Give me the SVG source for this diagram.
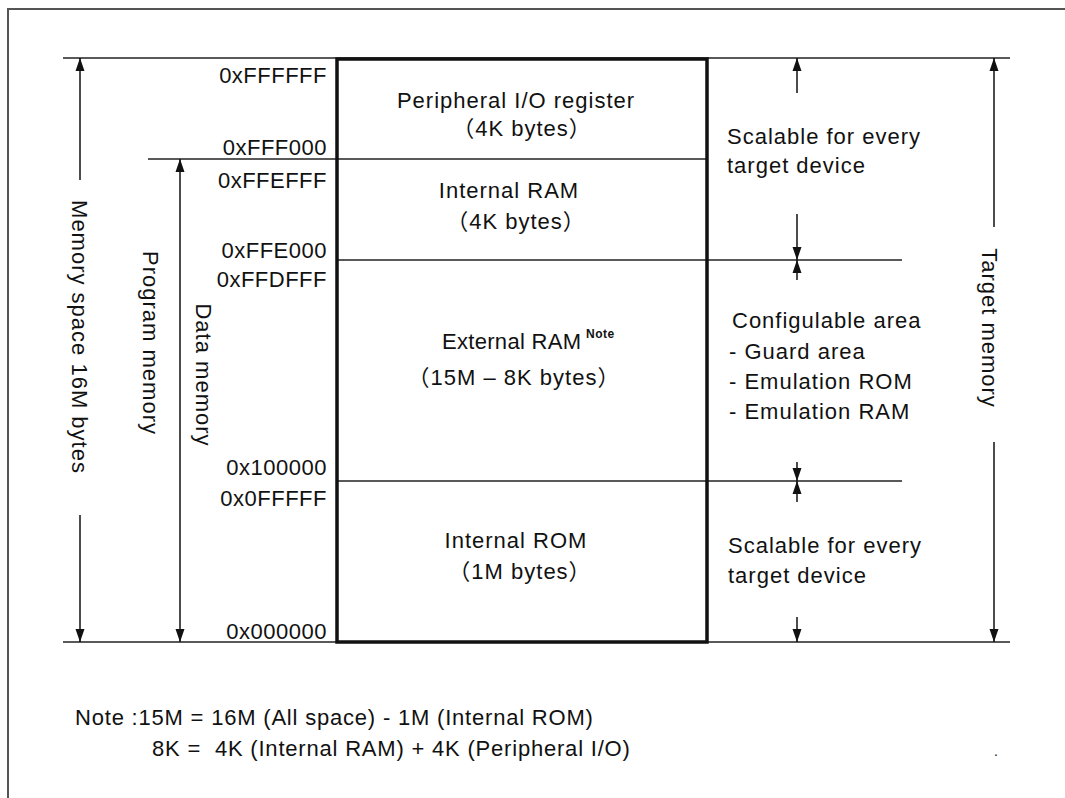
<svg xmlns="http://www.w3.org/2000/svg" width="1065" height="798" viewBox="0 0 1065 798">
<defs>
<marker id="ah" viewBox="0 0 13 10" refX="13" refY="5" markerWidth="13" markerHeight="10" markerUnits="userSpaceOnUse" orient="auto-start-reverse"><path d="M0,0.5 L13,5 L0,9.5 Z" fill="#111"/></marker>
</defs>
<style>
.t{font-family:"Liberation Sans","Noto Sans CJK JP",sans-serif;font-size:22px;fill:#111;letter-spacing:1px}
.a{letter-spacing:0.5px;text-anchor:end}
.c{text-anchor:middle}
.ln{stroke:#222;stroke-width:1.5;fill:none}
.ar{stroke:#111;stroke-width:1.5;fill:none;marker-end:url(#ah)}
.ar2{stroke:#111;stroke-width:1.5;fill:none;marker-start:url(#ah);marker-end:url(#ah)}
.box{stroke:#111;stroke-width:3.5;fill:none}
.frame{stroke:#555;stroke-width:2;fill:none}
</style>
<rect width="1065" height="798" fill="#fff"/>
<path class="frame" d="M8,798 L8,9 L1065,9"/>

<g id="connectors">
  <line class="ln" x1="63" y1="58" x2="1010" y2="58"/>
  <line class="ln" x1="63" y1="642" x2="1010" y2="642"/>
  <line class="ln" x1="148" y1="159" x2="707" y2="159"/>
  <line class="ln" x1="337" y1="260" x2="902" y2="260"/>
  <line class="ln" x1="337" y1="481" x2="902" y2="481"/>
  <line class="ar" x1="80" y1="180" x2="80" y2="58"/>
  <line class="ar" x1="80" y1="515" x2="80" y2="642"/>
  <line class="ar2" x1="180" y1="159" x2="180" y2="642"/>
  <line class="ar" x1="994" y1="227" x2="994" y2="58"/>
  <line class="ar" x1="994" y1="442" x2="994" y2="642"/>
  <line class="ar" x1="797" y1="93" x2="797" y2="58"/>
  <line class="ar" x1="797" y1="214" x2="797" y2="260"/>
  <line class="ar" x1="797" y1="280" x2="797" y2="260"/>
  <line class="ar" x1="797" y1="462" x2="797" y2="481"/>
  <line class="ar" x1="797" y1="502" x2="797" y2="481"/>
  <line class="ar" x1="797" y1="617" x2="797" y2="642"/>
</g>

<g id="memory-map">
  <rect class="box" x="337" y="59" width="370" height="583"/>
</g>

<g id="peripheral-io">
  <text class="t c" x="516" y="108">Peripheral I/O register</text>
  <text class="t c" x="522" y="136">（4K bytes）</text>
</g>
<g id="internal-ram">
  <text class="t c" x="509" y="198">Internal RAM</text>
  <text class="t c" x="516" y="229">（4K bytes）</text>
</g>
<g id="external-ram">
  <text class="t" x="442" y="349" textLength="140" lengthAdjust="spacing">External RAM</text>
  <text class="t" x="586" y="338" style="font-size:12px;letter-spacing:0.5px;font-weight:bold">Note</text>
  <text class="t c" x="514" y="385">（15M – 8K bytes）</text>
</g>
<g id="internal-rom">
  <text class="t c" x="516" y="548">Internal ROM</text>
  <text class="t c" x="520" y="579">（1M bytes）</text>
</g>

<g id="addresses">
  <text class="t a" x="327" y="83">0xFFFFFF</text>
  <text class="t a" x="327" y="155">0xFFF000</text>
  <text class="t a" x="327" y="188">0xFFEFFF</text>
  <text class="t a" x="327" y="258">0xFFE000</text>
  <text class="t a" x="327" y="287">0xFFDFFF</text>
  <text class="t a" x="327" y="475">0x100000</text>
  <text class="t a" x="327" y="506">0x0FFFFF</text>
  <text class="t a" x="327" y="639">0x000000</text>
</g>

<g id="memory-space-label">
  <text class="t c" transform="translate(72,337) rotate(90)">Memory space 16M bytes</text>
</g>
<g id="program-memory-label">
  <text class="t c" transform="translate(143,343) rotate(90)">Program memory</text>
</g>
<g id="data-memory-label">
  <text class="t c" transform="translate(196,375) rotate(90)">Data memory</text>
</g>
<g id="target-memory-label">
  <text class="t c" transform="translate(982,328) rotate(90)">Target memory</text>
</g>

<g id="scalable-top">
  <text class="t" x="727" y="144">Scalable for every</text>
  <text class="t" x="727" y="173">target device</text>
</g>
<g id="configurable-area">
  <text class="t" x="732" y="328">Configulable area</text>
  <text class="t" x="729" y="359">- Guard area</text>
  <text class="t" x="729" y="389">- Emulation ROM</text>
  <text class="t" x="729" y="419">- Emulation RAM</text>
</g>
<g id="scalable-bottom">
  <text class="t" x="728" y="553">Scalable for every</text>
  <text class="t" x="728" y="583">target device</text>
</g>

<g id="note">
  <text class="t" x="75" y="725" style="letter-spacing:0.8px">Note :15M = 16M (All space) - 1M (Internal ROM)</text>
  <text class="t" x="152" y="756" style="letter-spacing:0.8px">8K =&#160; 4K (Internal RAM) + 4K (Peripheral I/O)</text>
  <text class="t" x="994" y="756" style="font-size:14px">.</text>
</g>
</svg>
